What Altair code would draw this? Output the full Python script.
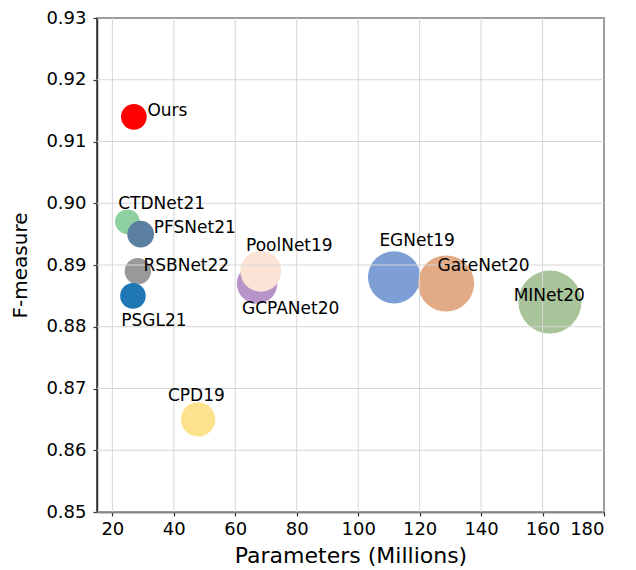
import altair as alt
import pandas as pd

names = ["Ours", "CTDNet21", "PFSNet21", "RSBNet22", "PSGL21", "GCPANet20",
         "PoolNet19", "CPD19", "EGNet19", "GateNet20", "MINet20"]
params = [27.0, 24.9, 29.2, 28.3, 26.7, 67.1, 68.3, 47.9, 111.7, 128.6, 162.4]
fmeasure = [0.914, 0.897, 0.895, 0.889, 0.885, 0.887, 0.889, 0.865, 0.888, 0.887, 0.884]
colors = ["#ff0000", "#8fd0a0", "#5b80a2", "#999999", "#1f77b4", "#b795c8",
          "#fbe4d5", "#fde28e", "#7d9fd5", "#e2aa85", "#a9c49b"]
label_x = [31.4, 21.9, 33.5, 30.1, 22.9, 62.2, 63.5, 38.1, 106.9, 125.8, 150.6]
label_y = [0.9149, 0.8998, 0.8960, 0.8899, 0.8809, 0.8829, 0.8930, 0.8688, 0.8939, 0.8899, 0.8850]
x_ticks = [20, 40, 60, 80, 100, 120, 140, 160, 180]
y_ticks = [0.85, 0.86, 0.87, 0.88, 0.89, 0.90, 0.91, 0.92, 0.93]

df = pd.DataFrame({
    "name": names, "params": params, "f": fmeasure,
    "lx": label_x, "ly": label_y, "idx": list(range(len(names))),
})

xscale = alt.Scale(domain=[15, 180], nice=False, zero=False)
yscale = alt.Scale(domain=[0.85, 0.93], nice=False, zero=False)

FONT = "DejaVu Sans"
DARK = "#333333"
GRID = "#d6d6d6"

xaxis = alt.Axis(values=x_ticks, format="d", grid=False, title="Parameters (Millions)",
                 titleX=253.5, titleY=43, titleBaseline="middle", titleAlign="center",
                 titleFontSize=22, labelPadding=4)
yaxis = alt.Axis(values=y_ticks, format=".2f", grid=False, title="F-measure",
                 titleX=-77, titleY=247, titleAngle=270, titleBaseline="middle",
                 titleAlign="center", titleFontSize=20, labelPadding=7)

points = alt.Chart(df).transform_calculate(
    area="datum.params * 24.5"
).mark_circle(opacity=1).encode(
    x=alt.X("params:Q", scale=xscale, axis=xaxis),
    y=alt.Y("f:Q", scale=yscale, axis=yaxis),
    size=alt.Size("area:Q", scale=None),
    color=alt.Color("name:N", scale=alt.Scale(domain=names, range=colors), legend=None),
    order=alt.Order("idx:Q"),
)

vgrid = alt.Chart(pd.DataFrame({"v": x_ticks})).mark_rule(color=GRID, strokeWidth=1).encode(
    x=alt.X("v:Q", scale=xscale, axis=xaxis)
)
hgrid = alt.Chart(pd.DataFrame({"v": y_ticks})).mark_rule(color=GRID, strokeWidth=1).encode(
    y=alt.Y("v:Q", scale=yscale, axis=yaxis)
)

labels = alt.Chart(df).mark_text(align="left", baseline="middle", fontSize=17,
                                 font=FONT, color="black").encode(
    x=alt.X("lx:Q", scale=xscale, axis=xaxis),
    y=alt.Y("ly:Q", scale=yscale, axis=yaxis),
    text="name:N",
)

chart = alt.layer(points, vgrid, hgrid, labels).properties(
    width=507, height=494,
    autosize=alt.AutoSizeParams(type="none"),
    padding={"left": 89, "top": 10, "right": 22, "bottom": 58},
).configure_view(
    stroke=DARK, strokeWidth=1.5
).configure_axis(
    domainColor=DARK, domainWidth=1.5, tickColor=DARK, tickSize=4, tickWidth=1.2,
    labelFont=FONT, labelFontSize=18, labelColor="black",
    titleFont=FONT, titleFontWeight="normal", titleColor="black",
)

chart.save("out.html", embed_options={"renderer": "svg", "actions": False})
